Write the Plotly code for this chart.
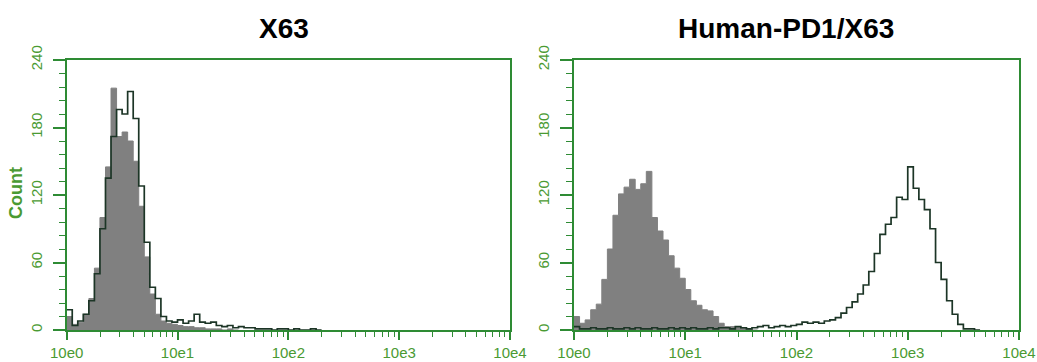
import numpy as np
import plotly.graph_objects as go

# ---- data (histogram counts per channel bin, bins of 0.05 decade starting at 10^0) ----
BIN_LOG_WIDTH = 0.05

x63_isotype = [12, 5, 7, 14, 28, 55, 100, 145, 215, 172, 176, 168, 150, 110, 65, 32, 14, 8, 6, 5,
               4, 3, 3, 2, 2, 1, 1, 1, 0, 1, 0]
x63_antibody = [18, 4, 8, 14, 26, 50, 90, 135, 172, 196, 192, 212, 188, 128, 78, 38, 28, 12, 8, 7,
                9, 6, 8, 14, 7, 6, 7, 4, 3, 4, 2, 3, 2, 2, 1, 1, 1, 0, 1, 1, 0, 1, 0, 0, 1, 0]
pd1_isotype = [12, 6, 9, 18, 23, 45, 72, 102, 121, 127, 134, 125, 130, 141, 100, 88, 80, 66, 55, 46,
               36, 26, 22, 18, 17, 12, 6, 3, 3, 2, 2, 1, 0]
pd1_antibody = [3, 1, 1, 2, 1, 1, 2, 1, 1, 2, 1, 2, 1, 1, 2, 1, 1, 2, 1, 2,
                1, 2, 1, 1, 2, 1, 2, 2, 1, 3, 2, 1, 2, 3, 4, 2, 3, 4, 3, 4,
                5, 7, 6, 7, 6, 8, 9, 11, 15, 20, 25, 32, 40, 52, 68, 85, 94, 100, 118, 116,
                145, 126, 116, 107, 90, 60, 45, 26, 14, 5, 1, 1, 0]

titles = ["X63", "Human-PD1/X63"]
x_tick_values = [1, 10, 100, 1000, 10000]
x_tick_labels = ["10e0", "10e1", "10e2", "10e3", "10e4"]
x_minor_multipliers = [2, 3, 4, 5, 6, 7, 8, 9]
y_tick_values = [0, 60, 120, 180, 240]
y_axis_label = "Count"

# ---- styles ----
W, H = 1037, 362
AXIS_GREEN = "#2e8b34"
LABEL_GREEN = "#4a9a32"
FILL_GRAY = "#808080"
LINE_DARK = "#1c3526"
FONT = "Liberation Sans, Arial, sans-serif"


def steps(counts):
    edges = 10 ** (np.arange(len(counts) + 1) * BIN_LOG_WIDTH)
    ys = list(counts) + [counts[-1]]
    return edges, ys


fig = go.Figure()

panels = [
    (x63_isotype, x63_antibody, "x", "y"),
    (pd1_isotype, pd1_antibody, "x2", "y2"),
]
for iso, ab, xa, ya in panels:
    ex, ey = steps(iso)
    fig.add_trace(go.Scatter(x=ex, y=ey, mode="lines", line=dict(shape="hv", color=FILL_GRAY, width=1),
                             fill="tozeroy", fillcolor=FILL_GRAY, xaxis=xa, yaxis=ya, showlegend=False,
                             hoverinfo="skip"))
    ex, ey = steps(ab)
    fig.add_trace(go.Scatter(x=ex, y=ey, mode="lines", line=dict(shape="hv", color=LINE_DARK, width=1.7),
                             xaxis=xa, yaxis=ya, showlegend=False, hoverinfo="skip"))

x_domains = [[66.7 / W, 510 / W], [574 / W, 1019 / W]]
y_domain = [1 - 330 / H, 1 - 60 / H]
minor_vals = [m * d for d in x_tick_values[:-1] for m in x_minor_multipliers]

common_x = dict(
    type="log", range=[0, 4], tickvals=x_tick_values, ticktext=x_tick_labels,
    ticks="outside", ticklen=8, tickwidth=1.5, tickcolor=AXIS_GREEN,
    showline=True, linecolor=AXIS_GREEN, linewidth=1.8, mirror=True,
    showgrid=False, zeroline=False, automargin=False,
    tickfont=dict(family=FONT, size=15, color=LABEL_GREEN),
    minor=dict(ticks="outside", ticklen=5, tickwidth=1.2, tickcolor=AXIS_GREEN,
               tickmode="array", tickvals=minor_vals, showgrid=False),
)
common_y = dict(
    range=[0, 240], tickvals=y_tick_values, ticks="outside", ticklen=12, tickwidth=1.5,
    tickcolor=AXIS_GREEN, showline=True, linecolor=AXIS_GREEN, linewidth=1.8, mirror=True,
    showgrid=False, zeroline=False, tickangle=-90, ticklabelstandoff=5, automargin=False,
    tickfont=dict(family=FONT, size=15, color=LABEL_GREEN),
    minor=dict(ticks="outside", ticklen=6, tickwidth=1.2, tickcolor=AXIS_GREEN, dtick=12, showgrid=False),
    domain=y_domain,
)

fig.update_layout(
    width=W, height=H,
    margin=dict(l=0, r=0, t=0, b=0, pad=0),
    paper_bgcolor="white", plot_bgcolor="white",
    xaxis=dict(common_x, domain=x_domains[0], anchor="y"),
    yaxis=dict(common_y, anchor="x"),
    xaxis2=dict(common_x, domain=x_domains[1], anchor="y2"),
    yaxis2=dict(common_y, anchor="x2"),
)

title_x = [284, 786]
for t, xp in zip(titles, title_x):
    fig.add_annotation(text=f"<b>{t}</b>", x=xp / W, y=1 - 28 / H, xref="paper", yref="paper",
                       showarrow=False, xanchor="center", yanchor="middle",
                       font=dict(family=FONT, size=28, color="black"))

fig.add_annotation(text=f"<b>{y_axis_label}</b>", x=16 / W, y=1 - 193 / H, xref="paper", yref="paper",
                   showarrow=False, xanchor="center", yanchor="middle", textangle=-90,
                   font=dict(family=FONT, size=18, color=LABEL_GREEN))

fig.write_html("out.html", config={"displayModeBar": False},
               post_script="document.body.style.margin='0';document.body.style.overflow='hidden';")
